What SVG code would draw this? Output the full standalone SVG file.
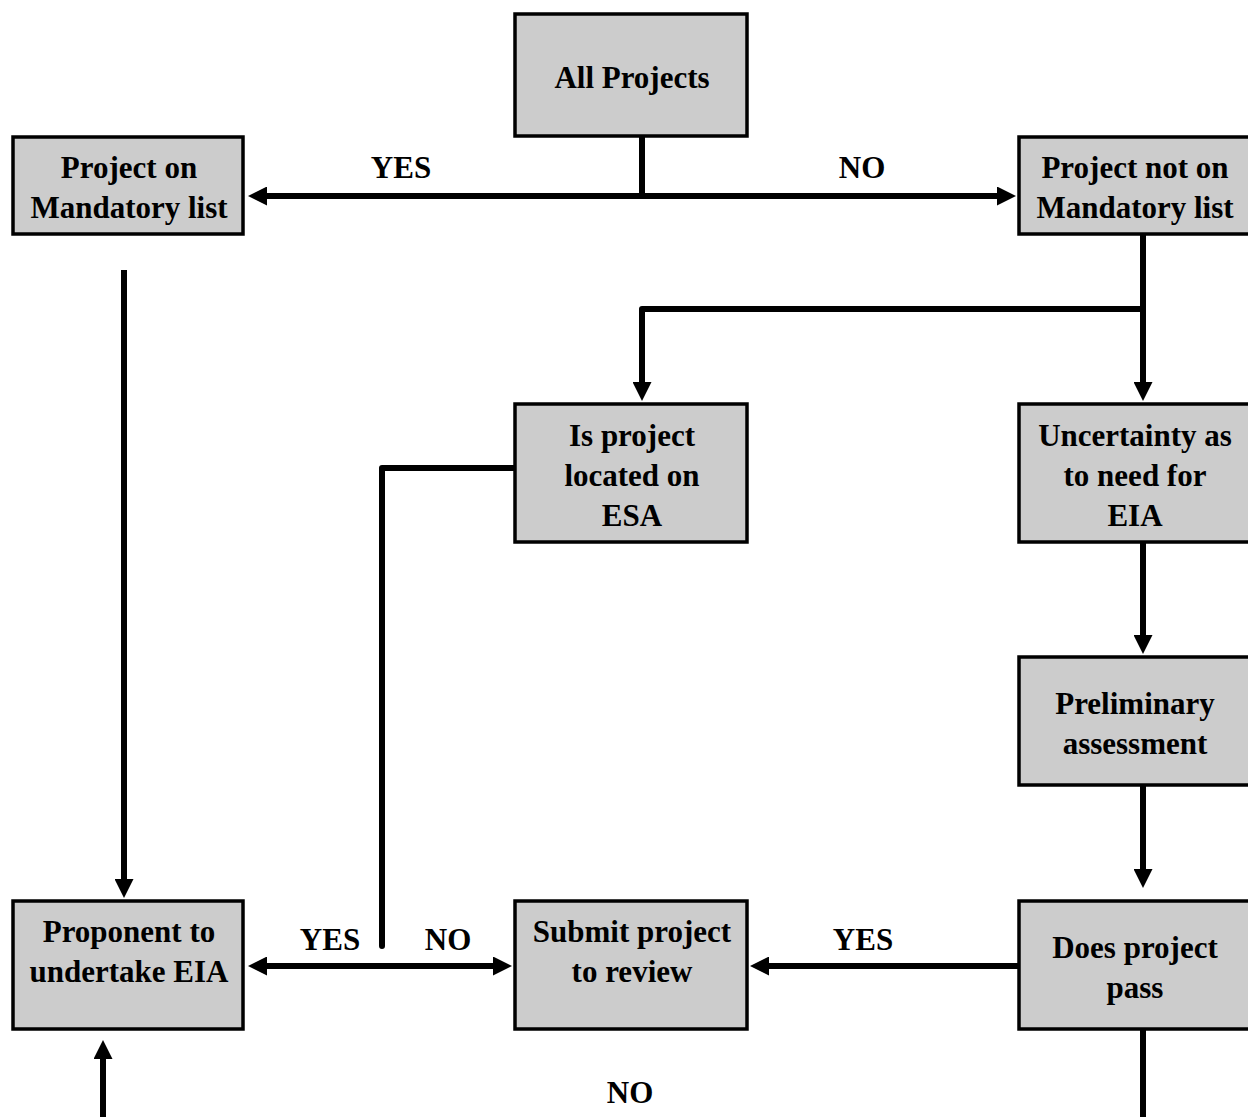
<svg xmlns="http://www.w3.org/2000/svg" width="1248" height="1117" viewBox="0 0 1248 1117">
<style>
.box{fill:#cccccc;stroke:#000;stroke-width:3.5}
.t{font-family:"Liberation Serif","Times New Roman",serif;font-weight:bold;font-size:31px;text-anchor:middle;fill:#000}
.c{fill:none;stroke:#000;stroke-width:6;stroke-linejoin:round}
.a{marker-end:url(#ah)}
</style>
<defs>
<marker id="ah" markerUnits="userSpaceOnUse" markerWidth="19" markerHeight="19" refX="9" refY="9.5" orient="auto">
<path d="M0,0 L19,9.5 L0,19 z" fill="#000"/>
</marker>
</defs>
<rect width="1248" height="1117" fill="#fff"/>
<g id="connectors">
<path class="c" d="M642,136 V196"/>
<path class="c a" d="M642,196 H258"/>
<path class="c a" d="M642,196 H1006"/>
<path class="c a" d="M1143,235 V391"/>
<path class="c a" d="M1143,309 H642 V391"/>
<path class="c" d="M514,468 H382 V946" stroke-linecap="round"/>
<path class="c a" d="M124,270 V888"/>
<path class="c a" d="M1143,543 V644"/>
<path class="c a" d="M1143,786 V878"/>
<path class="c a" d="M1018,966 H760"/>
<path class="c a" d="M382,966 H258"/>
<path class="c a" d="M382,966 H502"/>
<path class="c a" d="M103,1117 V1050"/>
<path class="c" d="M1143,1030 V1117"/>
</g>
<g id="labels">
<text class="t" x="401" y="178">YES</text>
<text class="t" x="862" y="178">NO</text>
<text class="t" x="330" y="950">YES</text>
<text class="t" x="448" y="950">NO</text>
<text class="t" x="863" y="950">YES</text>
<text class="t" x="630" y="1103">NO</text>
</g>
<g id="all-projects">
<rect class="box" x="515" y="14" width="232" height="122"/>
<text class="t" x="632" y="88">All Projects</text>
</g>
<g id="project-on-mandatory">
<rect class="box" x="13" y="137" width="230" height="97"/>
<text class="t" x="129" y="178">Project on</text>
<text class="t" x="129" y="218">Mandatory list</text>
</g>
<g id="project-not-on-mandatory">
<rect class="box" x="1019" y="137" width="232" height="97"/>
<text class="t" x="1135" y="178">Project not on</text>
<text class="t" x="1135" y="218">Mandatory list</text>
</g>
<g id="is-project-esa">
<rect class="box" x="515" y="404" width="232" height="138"/>
<text class="t" x="632" y="446">Is project</text>
<text class="t" x="632" y="486">located on</text>
<text class="t" x="632" y="526">ESA</text>
</g>
<g id="uncertainty">
<rect class="box" x="1019" y="404" width="232" height="138"/>
<text class="t" x="1135" y="446">Uncertainty as</text>
<text class="t" x="1135" y="486">to need for</text>
<text class="t" x="1135" y="526">EIA</text>
</g>
<g id="preliminary">
<rect class="box" x="1019" y="657" width="232" height="128"/>
<text class="t" x="1135" y="714">Preliminary</text>
<text class="t" x="1135" y="754">assessment</text>
</g>
<g id="proponent">
<rect class="box" x="13" y="901" width="230" height="128"/>
<text class="t" x="129" y="942">Proponent to</text>
<text class="t" x="129" y="982">undertake EIA</text>
</g>
<g id="submit-review">
<rect class="box" x="515" y="901" width="232" height="128"/>
<text class="t" x="632" y="942">Submit project</text>
<text class="t" x="632" y="982">to review</text>
</g>
<g id="does-pass">
<rect class="box" x="1019" y="901" width="232" height="128"/>
<text class="t" x="1135" y="958">Does project</text>
<text class="t" x="1135" y="998">pass</text>
</g>
</svg>
